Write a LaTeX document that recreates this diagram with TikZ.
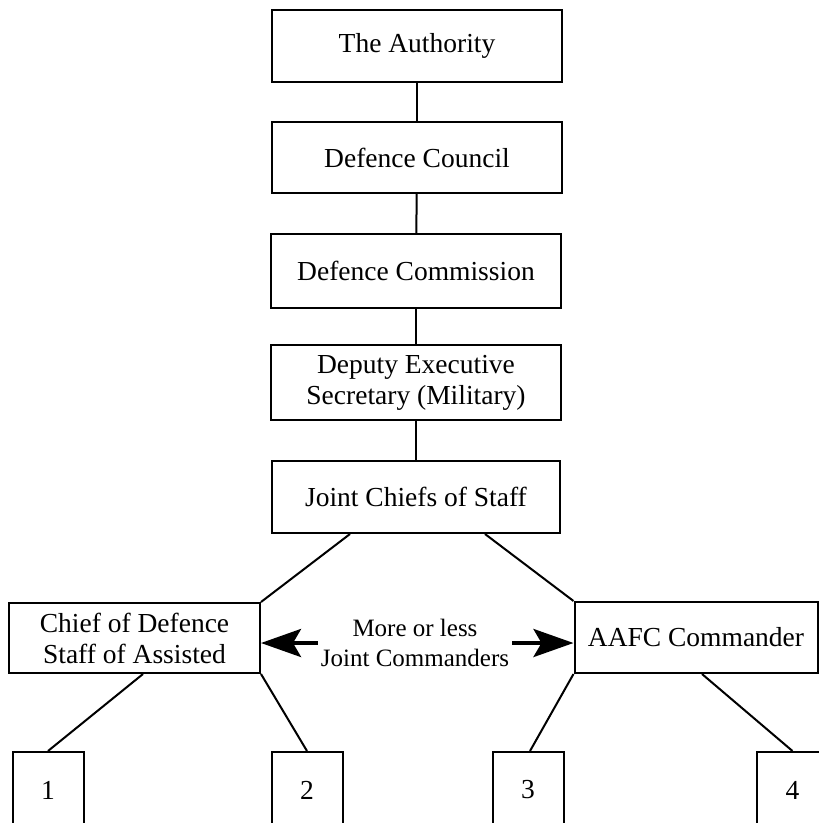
\documentclass[tikz,border=0pt]{standalone}
\usepackage{fontspec}
\setmainfont{Liberation Serif}
\usetikzlibrary{arrows.meta}

\begin{document}
\begin{tikzpicture}[x=1pt,y=-1pt,
    orgbox/.style={draw,line width=2pt,minimum width=290pt,minimum height=72pt,
        align=center,inner sep=0pt,font=\fontsize{27.5}{31}\selectfont},
    numbox/.style={orgbox,minimum width=71pt,minimum height=76pt},
    link/.style={line width=2pt},
    bigarrow/.style={line width=4pt,-{Stealth[length=40pt,width=28pt,inset=8pt]}}]
    \useasboundingbox (0,0) rectangle (819,823);
    % chain of command
    \node[orgbox] (auth) at (417,46) {The Authority};
    \node[orgbox,minimum height=71pt] (council) at (417,157.5) {Defence Council};
    \node[orgbox,minimum height=74pt] (comm) at (416,271) {Defence Commission};
    \node[orgbox,minimum height=75pt] (deputy) at (416,382.5) {Deputy Executive\\Secretary (Military)};
    \node[orgbox,minimum width=288pt] (jcs) at (416,497) {Joint Chiefs of Staff};
    \draw[link] (auth) -- (council);
    \draw[link] (council) -- (comm);
    \draw[link] (comm) -- (deputy);
    \draw[link] (deputy) -- (jcs);
    % joint commanders
    \node[orgbox,minimum width=251pt,minimum height=70pt] (chief) at (134.5,638) {Chief of Defence\\Staff of Assisted};
    \node[orgbox,minimum width=243pt,minimum height=71pt] (aafc) at (696,637.5) {AAFC Commander};
    \draw[link] ([xshift=-66pt]jcs.south) -- (chief.north east);
    \draw[link] ([xshift=69pt]jcs.south) -- (aafc.north west);
    \node[align=center,inner sep=3pt,font=\fontsize{25}{30}\selectfont] (more) at (415,643) {More or less\\Joint Commanders};
    \draw[bigarrow] (more.west) -- (more.west -| chief.east);
    \draw[bigarrow] (more.east) -- (more.east -| aafc.west);
    % numbered units
    \node[numbox] (u1) at (48,790) {1};
    \node[numbox] (u2) at (307,790) {2};
    \node[numbox] (u3) at (528,790) {3};
    \node[numbox] (u4) at (792.5,790) {4};
    \draw[link] ([xshift=8.5pt]chief.south) -- (u1.north);
    \draw[link] (chief.south east) -- (u2.north);
    \draw[link] (aafc.south west) -- ([xshift=2pt]u3.north);
    \draw[link] ([xshift=6pt]aafc.south) -- (u4.north);
\end{tikzpicture}
\end{document}
